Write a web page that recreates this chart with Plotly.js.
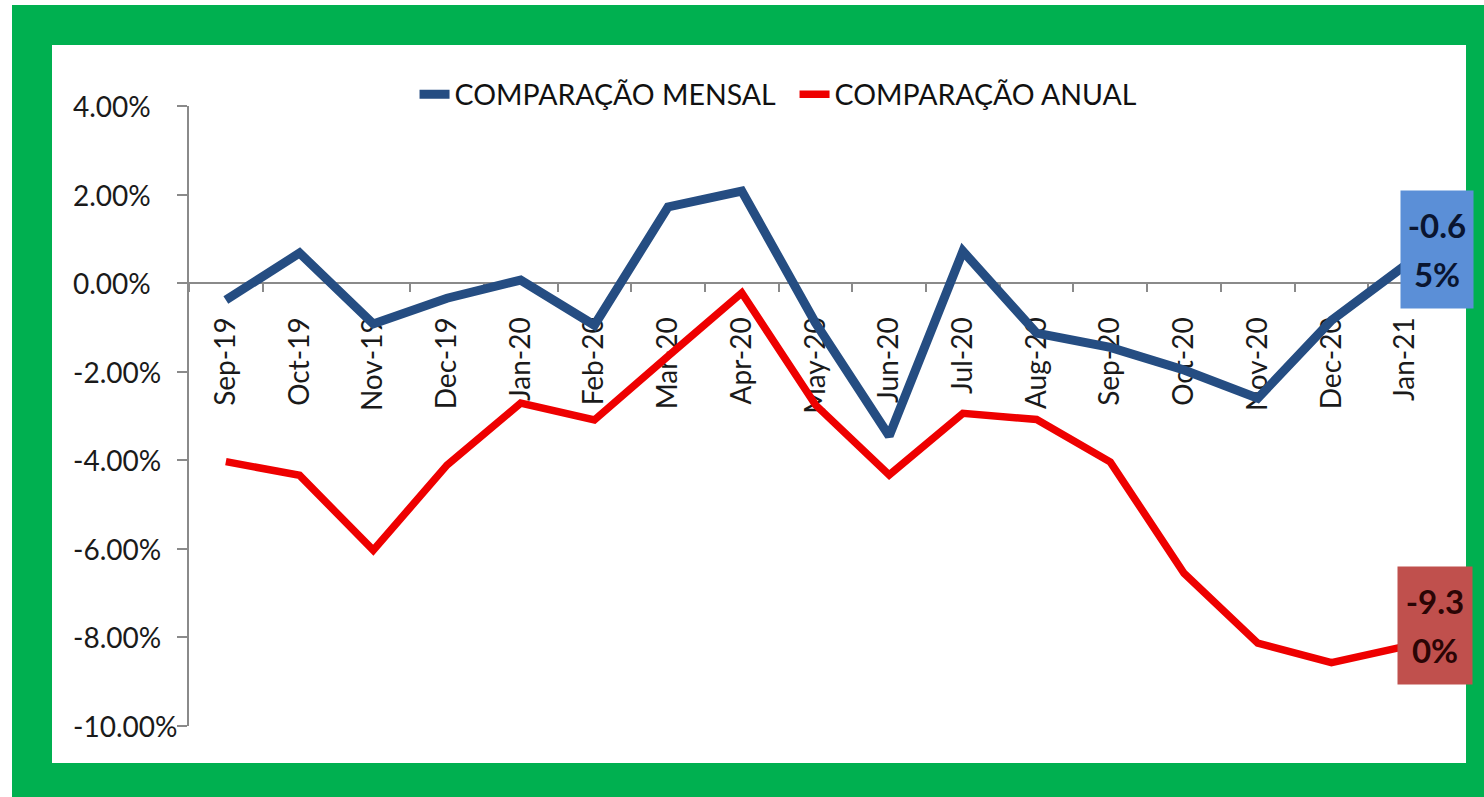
<!DOCTYPE html>
<html>
<head>
<meta charset="utf-8">
<script src="https://cdn.plot.ly/plotly-3.0.1.min.js"></script>
<style>
  html, body { margin: 0; padding: 0; background: #ffffff; width: 1484px; height: 797px; overflow: hidden; }
  #frame { position: absolute; left: 12px; top: 5px; width: 1472px; height: 792px; background: #00B050; }
  #inner { position: absolute; left: 52px; top: 45px; width: 1414px; height: 718px; background: #ffffff; }
  #chart { position: absolute; left: 0; top: 0; width: 1484px; height: 797px; }
</style>
</head>
<body>
<div id="frame"></div>
<div id="inner"></div>
<div id="chart"></div>
<script>
// ---- data ----
const categories = ['Sep-19','Oct-19','Nov-19','Dec-19','Jan-20','Feb-20','Mar-20','Apr-20','May-20','Jun-20','Jul-20','Aug-20','Sep-20','Oct-20','Nov-20','Dec-20','Jan-21'];
const mensal = [-0.38, 0.68, -0.92, -0.34, 0.07, -0.95, 1.72, 2.08, -0.90, -3.45, 0.72, -1.13, -1.45, -1.96, -2.60, -0.84, 0.40];
const anual  = [-4.03, -4.34, -6.03, -4.11, -2.71, -3.09, -1.65, -0.22, -2.75, -4.33, -2.94, -3.08, -4.04, -6.55, -8.13, -8.57, -8.20];
const seriesNames = ['COMPARAÇÃO MENSAL', 'COMPARAÇÃO ANUAL'];
const yTicks = [-10, -8, -6, -4, -2, 0, 2, 4];
const lastLabels = ['-0.6<br>5%', '-9.3<br>0%'];

const yMin = -10, yMax = 4;
const FONT = 'Lato, "Noto Sans", sans-serif';

const traces = [
  { type: 'scatter', mode: 'lines', name: seriesNames[0], x: categories, y: mensal,
    line: { color: '#254D82', width: 9 }, hoverinfo: 'x+y' },
  { type: 'scatter', mode: 'lines', name: seriesNames[1], x: categories, y: anual,
    line: { color: '#EE0000', width: 7.5 }, hoverinfo: 'x+y' }
];

const annotations = [];
yTicks.forEach(v => {
  annotations.push({ xref: 'paper', yref: 'y', x: -0.0942, y: v, xanchor: 'left', yanchor: 'middle',
    text: v.toFixed(2) + '%', showarrow: false, font: { family: FONT, size: 28, color: '#1a1a1a' } });
});
const lastIdx = categories.length - 1;
annotations.push({ xref: 'x', yref: 'y', x: categories[lastIdx], y: mensal[lastIdx], xanchor: 'left', yanchor: 'middle',
  xshift: -5, yshift: 16, showarrow: false, width: 68, height: 113, bgcolor: '#5B8FD7', borderpad: 2,
  align: 'center', valign: 'middle',
  text: lastLabels[0].split('<br>').map(s => '<span style="font-size:33px"><b>' + s + '</b></span>').join('<br>'),
  font: { family: FONT, size: 38, color: '#0a1530' } });
annotations.push({ xref: 'x', yref: 'y', x: categories[lastIdx], y: anual[lastIdx], xanchor: 'left', yanchor: 'middle',
  xshift: -8, yshift: 21, showarrow: false, width: 70, height: 113, bgcolor: '#C0504D', borderpad: 2,
  align: 'center', valign: 'middle',
  text: lastLabels[1].split('<br>').map(s => '<span style="font-size:33px"><b>' + s + '</b></span>').join('<br>'),
  font: { family: FONT, size: 38, color: '#2a0505' } });

const layout = {
  width: 1484, height: 797,
  margin: { l: 189, r: 42, t: 106, b: 71, pad: 0 },
  paper_bgcolor: 'rgba(0,0,0,0)', plot_bgcolor: 'rgba(0,0,0,0)',
  font: { family: FONT, size: 28, color: '#1a1a1a' },
  showlegend: true,
  legend: { orientation: 'h', x: 0.18, xanchor: 'left', y: 1.018, yanchor: 'middle',
    entrywidth: 335, entrywidthmode: 'pixels',
    font: { family: FONT, size: 28.5, color: '#111111' }, bgcolor: 'rgba(0,0,0,0)', traceorder: 'normal' },
  xaxis: {
    type: 'category', anchor: 'free', position: (0 - yMin) / (yMax - yMin),
    range: [-0.5, categories.length - 0.5],
    showline: true, linecolor: '#8a8a8a', linewidth: 2,
    ticks: 'outside', tickson: 'boundaries', ticklen: 8, tickwidth: 2, tickcolor: '#8a8a8a',
    tickangle: -90, ticklabelstandoff: 22,
    tickfont: { family: FONT, size: 28, color: '#1a1a1a' },
    showgrid: false, zeroline: false, layer: 'below traces', fixedrange: true
  },
  yaxis: {
    range: [yMin, yMax], tickvals: yTicks, showticklabels: false,
    showline: true, linecolor: '#8a8a8a', linewidth: 2,
    ticks: 'outside', ticklen: 10, tickwidth: 2, tickcolor: '#8a8a8a',
    showgrid: false, zeroline: false, fixedrange: true
  },
  annotations: annotations
};

Plotly.newPlot('chart', traces, layout, { displayModeBar: false, staticPlot: true });
</script>
</body>
</html>
